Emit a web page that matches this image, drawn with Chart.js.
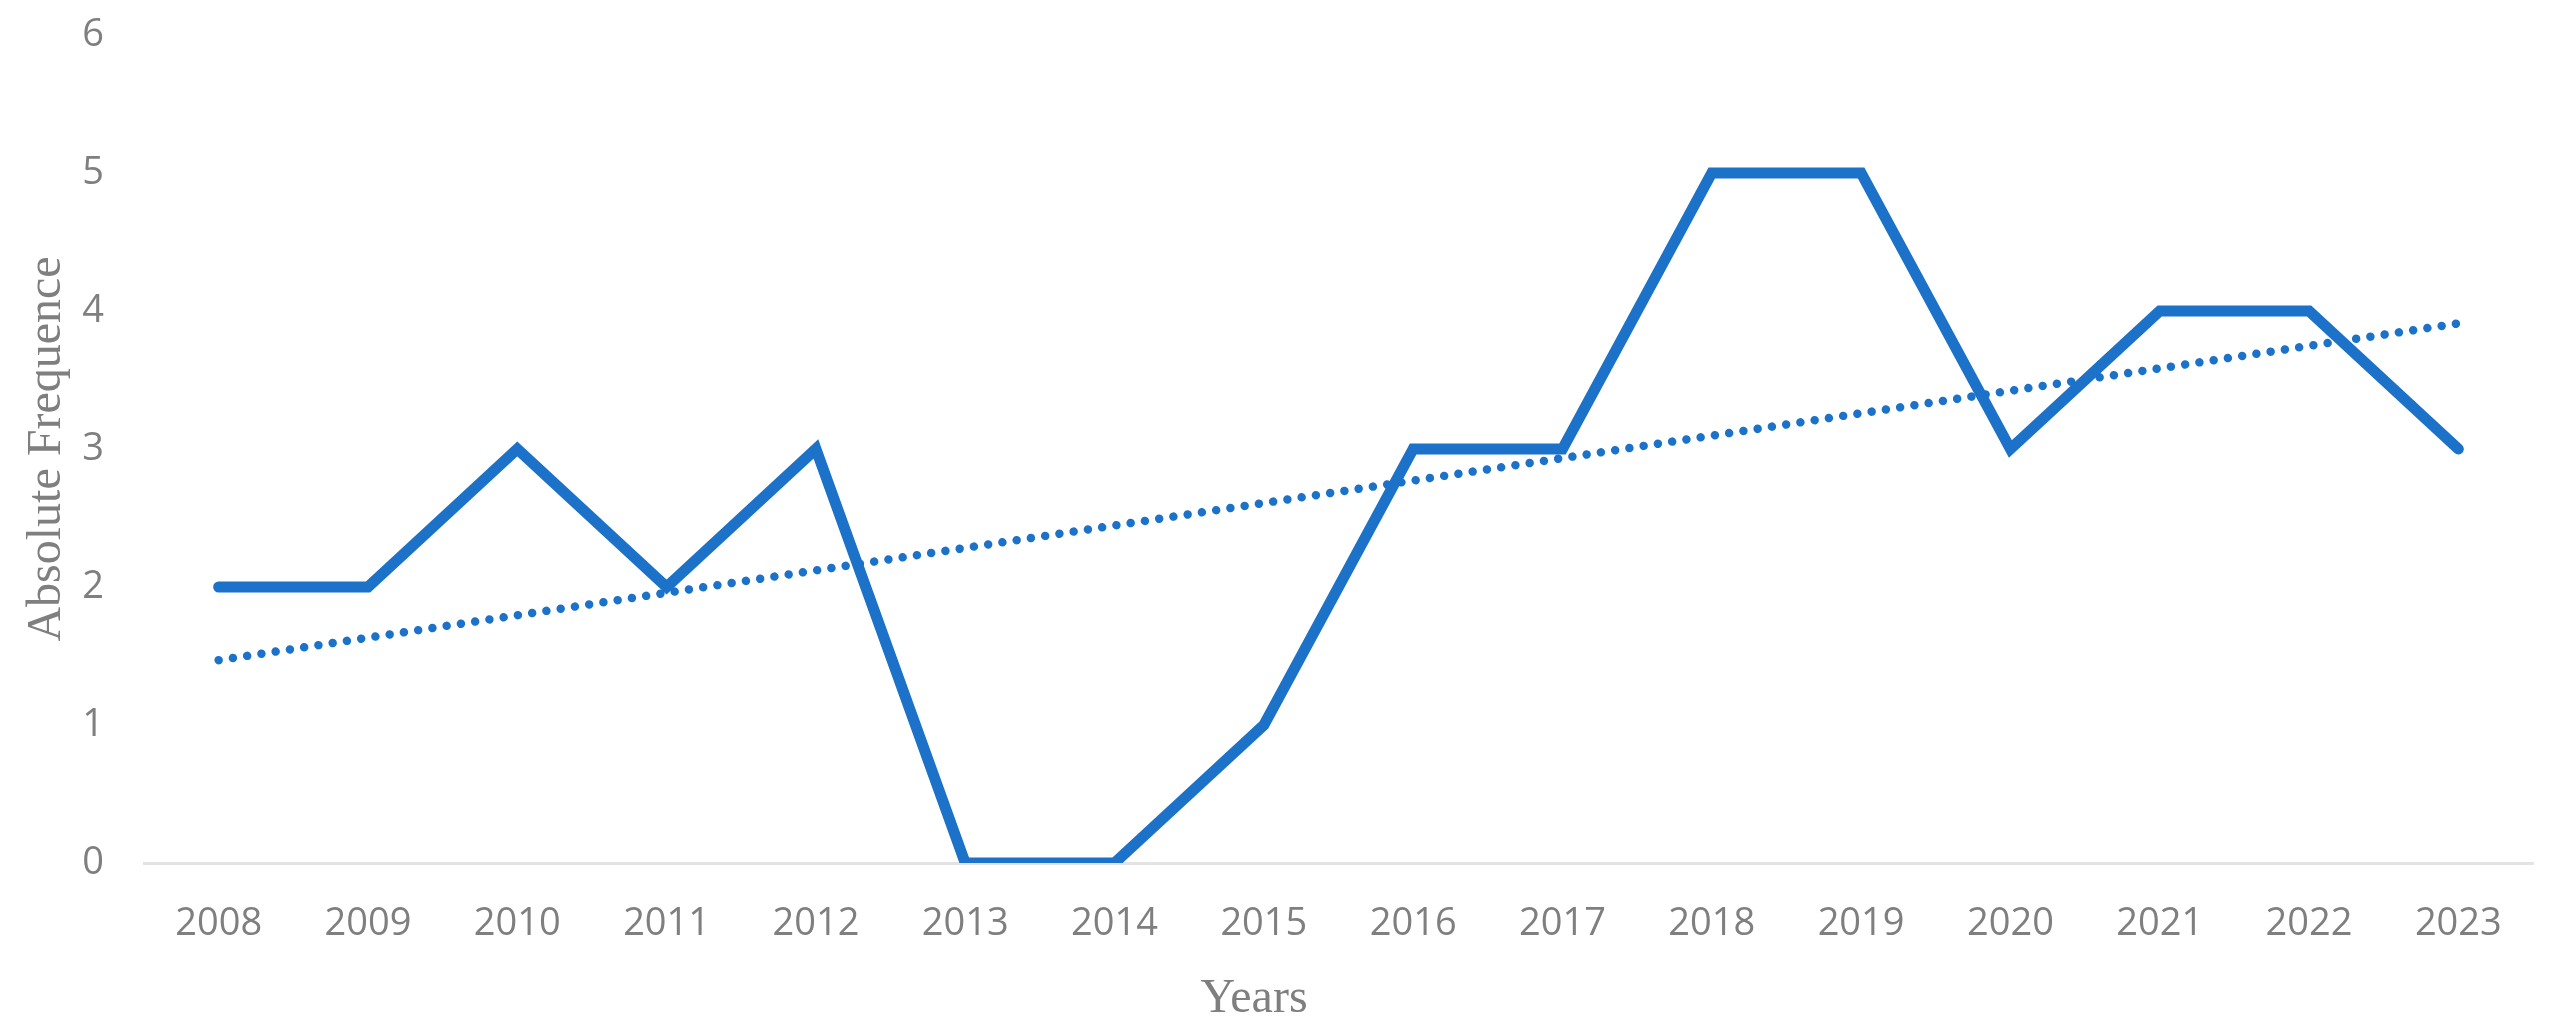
<!DOCTYPE html>
<html>
<head>
<meta charset="utf-8">
<script src="https://cdn.jsdelivr.net/npm/chart.js@4/dist/chart.umd.min.js"></script>
<style>
  html, body { margin: 0; padding: 0; background: #fff; }
  #wrap { width: 2571px; height: 1033px; }
</style>
</head>
<body>
<div id="wrap"><canvas id="chart"></canvas></div>
<script>
const years = ["2008", "2009", "2010", "2011", "2012", "2013", "2014", "2015",
               "2016", "2017", "2018", "2019", "2020", "2021", "2022", "2023"];
const frequency = [2, 2, 3, 2, 3, 0, 0, 1, 3, 3, 5, 5, 3, 4, 4, 3];
// dotted linear trend, endpoints
const trendYears = ["2008", "2023"];
const trendValues = [1.47, 3.91];

const blue = "#1b72c8";
const grey = "#7f7f7f";

// x axis title sits a bit left of the plot centre, as in the original
const xTitle = {
    id: "xTitle",
    afterDraw(chart) {
        const ctx = chart.ctx;
        ctx.save();
        ctx.font = "48px 'Liberation Serif'";
        ctx.fillStyle = grey;
        ctx.textAlign = "center";
        ctx.textBaseline = "alphabetic";
        ctx.fillText("Years", 1254, 1012);
        ctx.restore();
    },
};

const config = {
    type: "line",
    data: {
        labels: years,
        datasets: [
            {
                label: "Absolute Frequence",
                data: frequency,
                borderColor: blue,
                borderWidth: 11,
                borderCapStyle: "round",
                borderJoinStyle: "miter",
                pointRadius: 0,
                tension: 0,
                order: 1,
            },
            {
                label: "Linear trend",
                data: trendYears.map((y, i) => ({ x: y, y: trendValues[i] })),
                borderColor: blue,
                borderWidth: 8.5,
                borderDash: [0.01, 14.4],
                borderCapStyle: "round",
                pointRadius: 0,
                order: 2,
            },
        ],
    },
    options: {
        responsive: true,
        maintainAspectRatio: false,
        animation: false,
        layout: { padding: { top: 35, right: 38, left: 0, bottom: 0 } },
        plugins: {
            legend: { display: false },
            tooltip: { enabled: false },
        },
        scales: {
            x: {
                offset: true,
                grid: { display: false, drawTicks: false },
                border: { display: true, color: "#e3e3e3", width: 3 },
                ticks: {
                    color: grey,
                    font: { family: "'Open Sans'", size: 38 },
                    padding: 38,
                    maxRotation: 0,
                    autoSkip: false,
                },
                afterFit(scale) { scale.height = 170; },
            },
            y: {
                min: 0,
                max: 6,
                grid: { display: false, drawTicks: false },
                border: { display: false },
                ticks: {
                    stepSize: 1,
                    color: grey,
                    font: { family: "'Open Sans'", size: 38 },
                    padding: 40,
                },
                title: {
                    display: true,
                    text: "Absolute Frequence",
                    color: grey,
                    font: { family: "'Liberation Serif'", size: 48 },
                    padding: { top: 19, bottom: 0 },
                },
                afterFit(scale) {
                    scale.width = 144;
                    // tick padding shouldn't push the plot top down
                    scale.paddingTop = 0;
                },
            },
        },
    },
    plugins: [xTitle],
};

const ctx = document.getElementById("chart");
window.myLine = new Chart(ctx, config);
</script>
</body>
</html>
